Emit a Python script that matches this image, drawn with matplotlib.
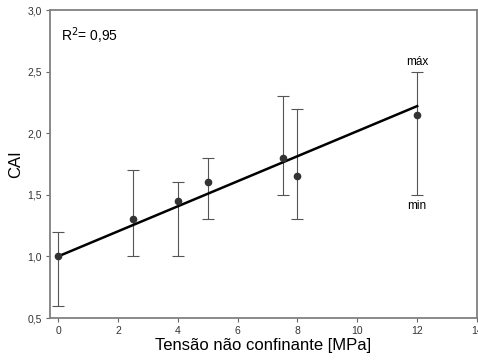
import matplotlib
matplotlib.use("Agg")
import matplotlib.pyplot as plt

plt.rcParams['font.family'] = ['Liberation Sans', 'DejaVu Sans']

# dados
tensao = [0, 2.5, 4, 5, 7.5, 8, 12]
cai = [1.0, 1.3, 1.45, 1.6, 1.8, 1.65, 2.15]
cai_min = [0.6, 1.0, 1.0, 1.3, 1.5, 1.3, 1.5]
cai_max = [1.2, 1.7, 1.6, 1.8, 2.3, 2.2, 2.5]
fit_x = [0, 12]
fit_y = [1.0, 2.22]
xticks = [0, 2, 4, 6, 8, 10, 12, 14]
yticks = [0.5, 1.0, 1.5, 2.0, 2.5, 3.0]
ytick_labels = ["0,5", "1,0", "1,5", "2,0", "2,5", "3,0"]

fig = plt.figure(figsize=(4.78, 3.63), dpi=100)
ax = fig.add_axes([50 / 478, 45 / 363, 427 / 478, 308 / 363])

err_lo = [c - m for c, m in zip(cai, cai_min)]
err_hi = [m - c for c, m in zip(cai, cai_max)]
ax.errorbar(tensao, cai, yerr=[err_lo, err_hi], fmt='none', ecolor='#555555',
            elinewidth=0.8, capsize=4.5, capthick=0.8, zorder=2)
ax.plot(fit_x, fit_y, color='black', lw=1.8, zorder=3)
ax.plot(tensao, cai, 'o', color='#333333', ms=4.5, zorder=4)

ax.set_xlim(-0.27, 14)
ax.set_ylim(0.5, 3.0)
ax.set_xticks(xticks)
ax.set_yticks(yticks)
ax.set_yticklabels(ytick_labels)
ax.tick_params(direction='out', length=3, width=0.8, color='#666666',
               labelsize=7.5, labelcolor='#333333', pad=3)

for s in ax.spines.values():
    s.set_color('#808080')
    s.set_linewidth(1.3)

ax.set_xlabel("Tensão não confinante [MPa]", fontsize=12, labelpad=1)
ax.set_ylabel("CAI", fontsize=12, labelpad=3)

ax.text(0.025, 0.95, "R$^2$= 0,95", transform=ax.transAxes, fontsize=10,
        va='top', ha='left')
ax.text(12, 2.53, "máx", ha='center', va='bottom', fontsize=8.5)
ax.text(12, 1.46, "min", ha='center', va='top', fontsize=8.5)

fig.savefig("out.png", dpi=100)
